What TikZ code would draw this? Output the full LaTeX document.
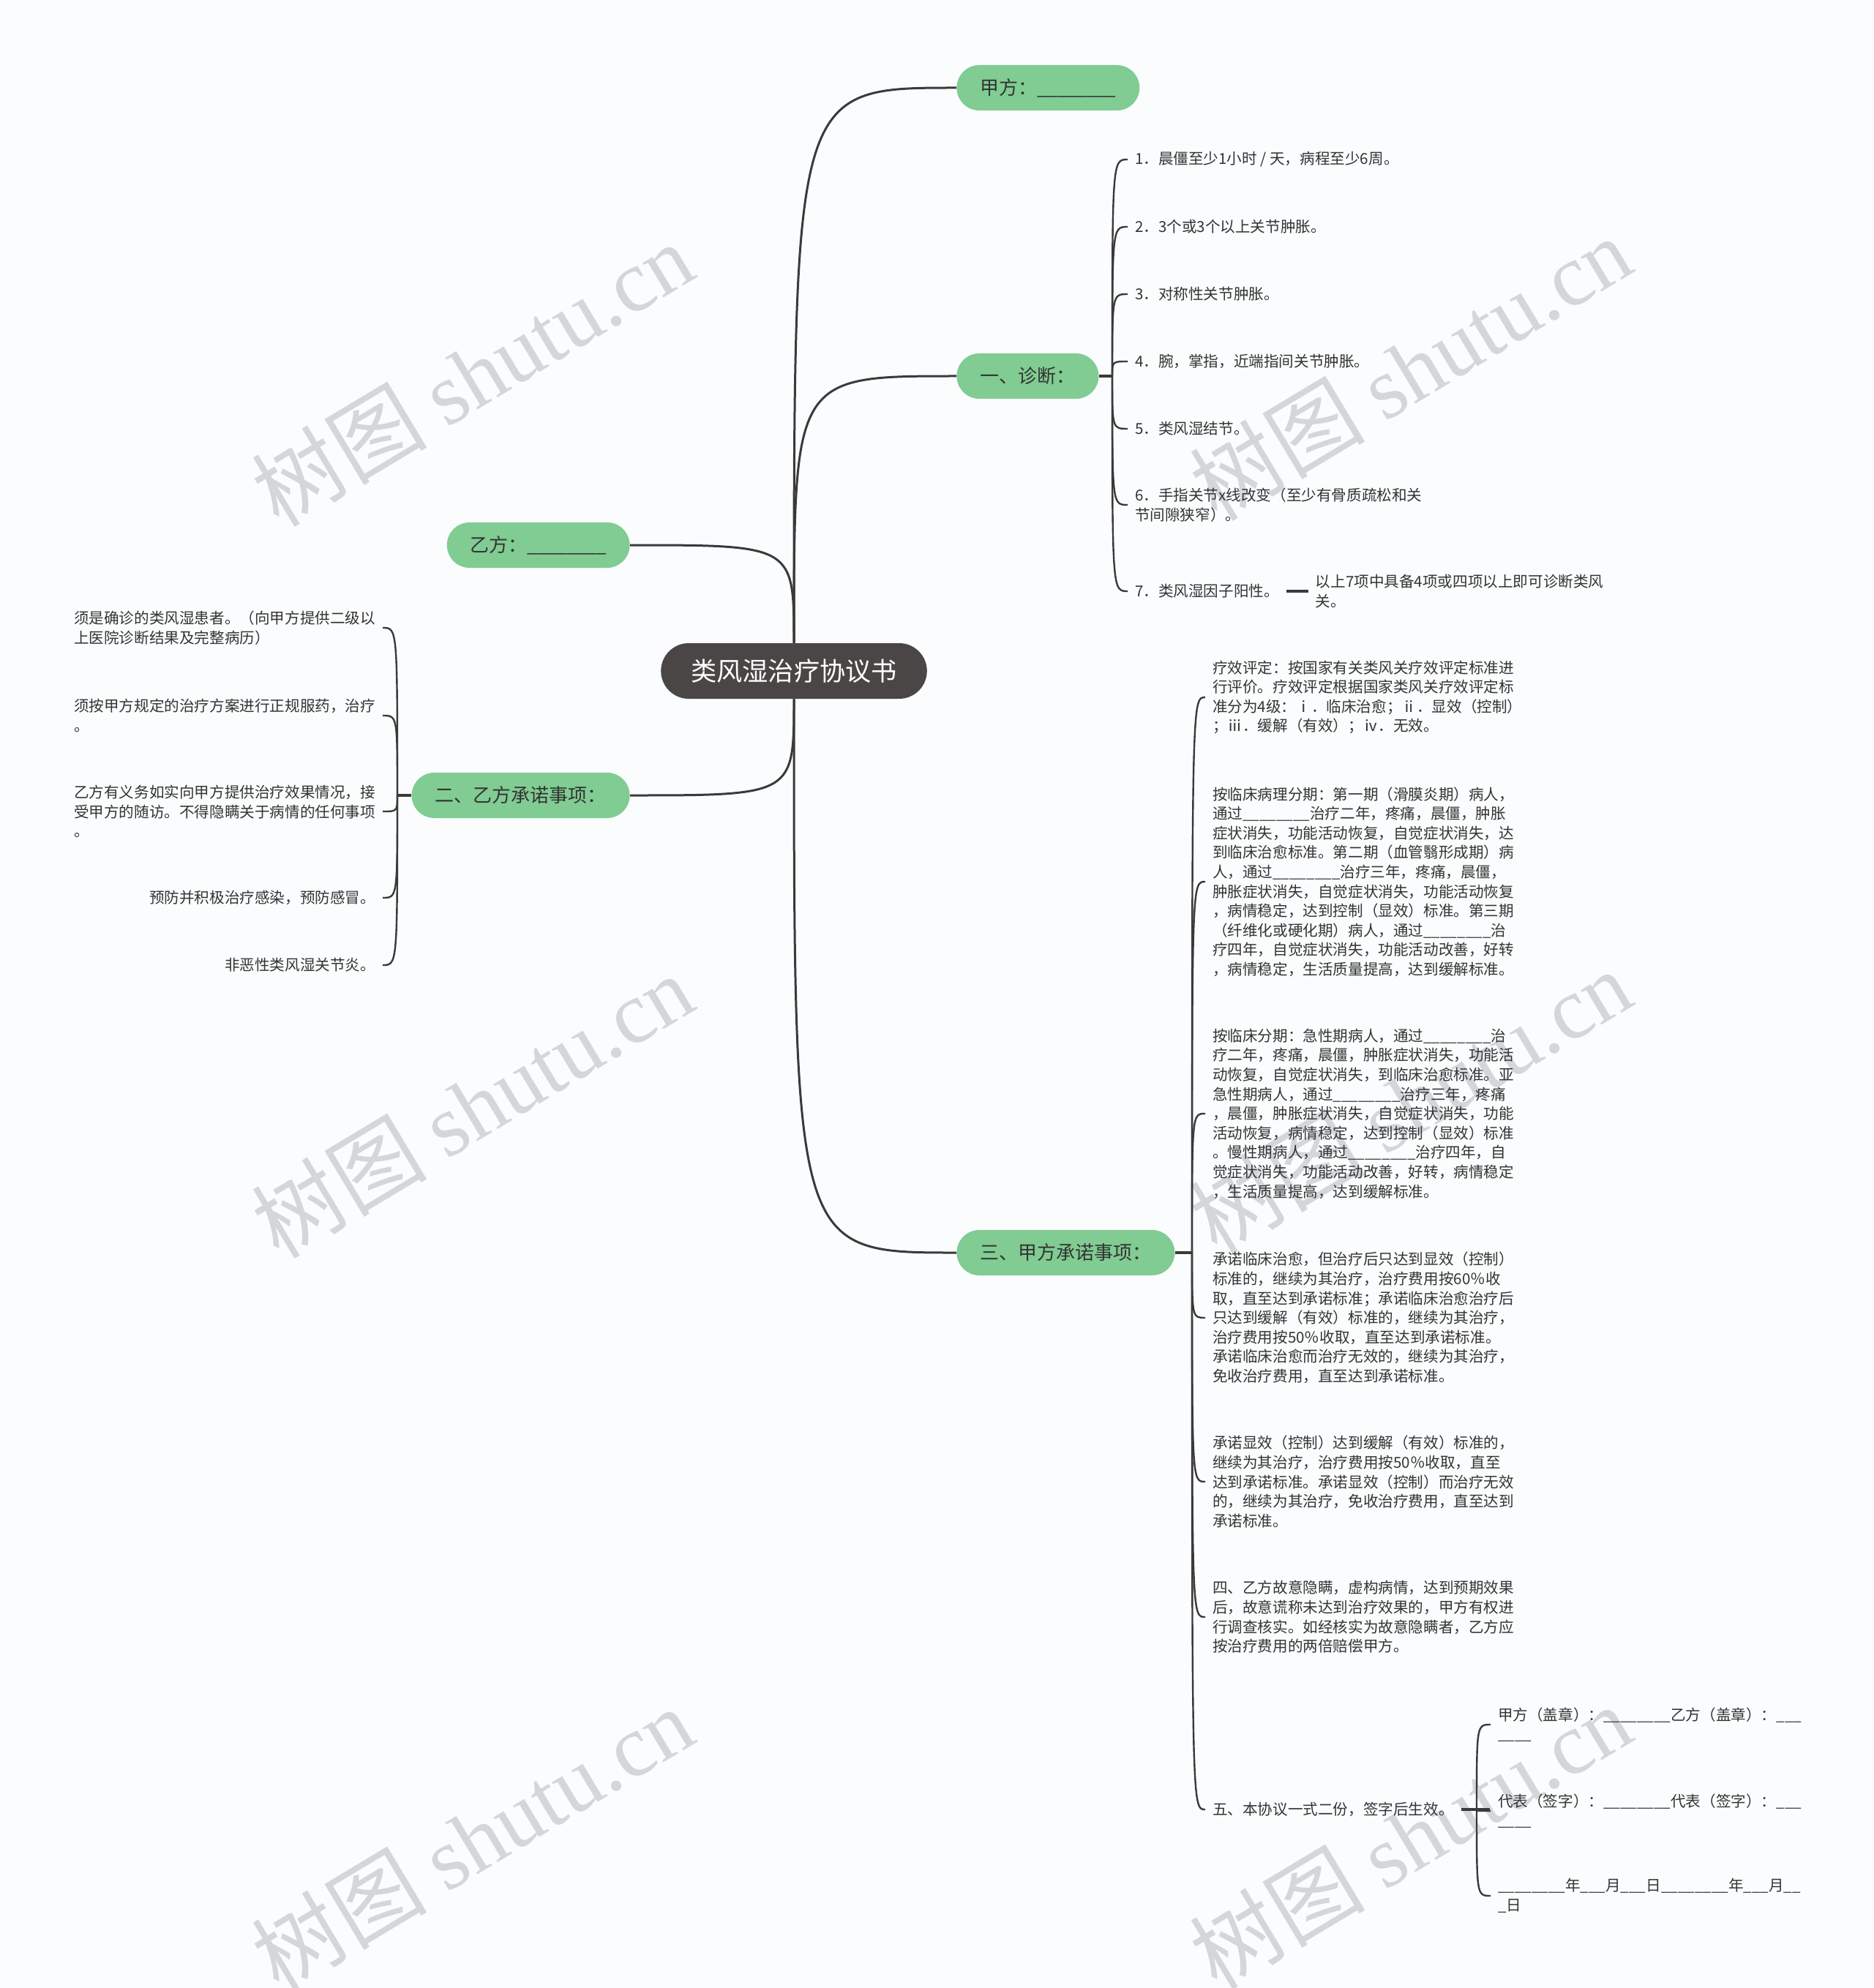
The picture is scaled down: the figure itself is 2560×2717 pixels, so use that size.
\documentclass[tikz,border=0pt]{standalone}
\usepackage{fontspec}
\setmainfont{Noto Sans CJK SC}
\newfontfamily\wmfont{Liberation Serif}
\usetikzlibrary{positioning, calc}
\definecolor{cRoot}{RGB}{75,70,70}
\definecolor{cBranch}{RGB}{128,204,146}
\definecolor{cLine}{RGB}{58,58,58}
\definecolor{cText}{RGB}{51,51,51}
\definecolor{cMark}{RGB}{212,215,217}
\definecolor{cPaper}{RGB}{250,252,253}
\newcommand{\blanks}{\_\_\_\_\_\_\_\_}
\newcommand{\nodeblanks}{\_\kern-0.6pt\_\kern-0.6pt\_\kern-0.6pt\_\kern-0.6pt\_\kern-0.6pt\_\kern-0.6pt\_\kern-0.6pt\_}
\tikzset{
    rootnode/.style={rectangle, rounded corners=19pt, minimum height=38pt, inner xsep=20.5pt, fill=cRoot, text=white, font=\fontsize{17.6}{20}\selectfont},
    branch/.style  ={rectangle, rounded corners=15.5pt, minimum height=31pt, inner xsep=16pt, fill=cBranch, text=cText, font=\fontsize{13}{15}\selectfont},
    leaf/.style    ={inner sep=0pt, outer xsep=5pt, align=left, text=cText, font=\fontsize{10.3}{13.3}\selectfont},
    limb/.style    ={draw=cLine, line width=1.5pt},
    twig/.style    ={draw=cLine, line width=1.2pt},
    stub/.style    ={draw=cLine, line width=2pt},
    wmark/.style   ={text=cMark, rotate=31, font=\fontsize{60}{60}\selectfont},
}

\begin{document}
\begin{tikzpicture}[x=0.5pt, y=-0.5pt]
                \useasboundingbox (0,0) rectangle (2560,2717);
                \fill[cPaper](0,0) rectangle (2560,2717);
                \node[wmark] (wmA) at (645,511){树图 {\wmfont shutu.cn}};
                \node[wmark] (wmB) at (1927,503){树图 {\wmfont shutu.cn}};
                \node[wmark] (wmC) at (645,1511){树图 {\wmfont shutu.cn}};
                \node[wmark] (wmD) at (1927,1505){树图 {\wmfont shutu.cn}};
                \node[wmark] (wmE) at (645,2513){树图 {\wmfont shutu.cn}};
                \node[wmark] (wmF) at (1927,2510){树图 {\wmfont shutu.cn}};
                \node[rootnode] (root) at (1085,917){类风湿治疗协议书};
                \node[branch, anchor=west] (jia) at (1307,120){甲方：\nodeblanks};
                \node[branch, anchor=west] (diag) at (1307,514){一、诊断：};
                \node[branch, anchor=east] (yi) at (861,745){乙方：\nodeblanks};
                \node[branch, anchor=east] (yiduty) at (861,1087){二、乙方承诺事项：};
                \node[branch, anchor=west] (jiaduty) at (1307,1712){三、甲方承诺事项：};
                \draw[limb](root.north) .. controls (root.north |- jia.west) .. (jia.west);
                \draw[limb](root.north) .. controls (root.north |- diag.west) .. (diag.west);
                \draw[limb](yi.east) .. controls (root.north |- yi.east) .. (root.north);
                \draw[limb](yiduty.east) .. controls (root.south |- yiduty.east) .. (root.south);
                \draw[limb](root.south) .. controls (root.south |- jiaduty.west) .. (jiaduty.west);
                % diagnosis
                \coordinate (diaghub) at (1520,514);
                \node[leaf, anchor=west] (d1) at (1541,218){1．晨僵至少1小时 / 天，病程至少6周。};
                \node[leaf, anchor=west] (d2) at (1541,310){2．3个或3个以上关节肿胀。};
                \node[leaf, anchor=west] (d3) at (1541,402){3．对称性关节肿胀。};
                \node[leaf, anchor=west] (d4) at (1541,494){4．腕，掌指，近端指间关节肿胀。};
                \node[leaf, anchor=west] (d5) at (1541,586){5．类风湿结节。};
                \node[leaf, anchor=west] (d6) at (1541,690){6．手指关节x线改变（至少有骨质疏松和关\\节间隙狭窄）。};
                \node[leaf, anchor=west] (d7) at (1541,808){7．类风湿因子阳性。};
                \node[leaf, right=15pt of d7] (note){以上7项中具备4项或四项以上即可诊断类风\\关。};
                \draw[stub](diag.east)--(diaghub);
                \draw[stub](d7.east)--(note.west);
                \draw[twig](diaghub) .. controls (diaghub |- d1.west) .. (d1.west);
                \draw[twig](diaghub) .. controls (diaghub |- d2.west) .. (d2.west);
                \draw[twig](diaghub) .. controls (diaghub |- d3.west) .. (d3.west);
                \draw[twig](diaghub) .. controls (diaghub |- d4.west) .. (d4.west);
                \draw[twig](diaghub) .. controls (diaghub |- d5.west) .. (d5.west);
                \draw[twig](diaghub) .. controls (diaghub |- d6.west) .. (d6.west);
                \draw[twig](diaghub) .. controls (diaghub |- d7.west) .. (d7.west);
                % duties of party B
                \coordinate (yihub) at (543,1087);
                \node[leaf, anchor=east] (y1) at (523,858){须是确诊的类风湿患者。（向甲方提供二级以\\上医院诊断结果及完整病历）};
                \node[leaf, anchor=east] (y2) at (523,978){须按甲方规定的治疗方案进行正规服药，治疗\\。};
                \node[leaf, anchor=east] (y3) at (523,1109){乙方有义务如实向甲方提供治疗效果情况，接\\受甲方的随访。不得隐瞒关于病情的任何事项\\。};
                \node[leaf, anchor=east] (y4) at (523,1227){预防并积极治疗感染，预防感冒。};
                \node[leaf, anchor=east] (y5) at (523,1319){非恶性类风湿关节炎。};
                \draw[stub](yiduty.west)--(yihub);
                \draw[twig](yihub) .. controls (yihub |- y1.east) .. (y1.east);
                \draw[twig](yihub) .. controls (yihub |- y2.east) .. (y2.east);
                \draw[twig](yihub) .. controls (yihub |- y3.east) .. (y3.east);
                \draw[twig](yihub) .. controls (yihub |- y4.east) .. (y4.east);
                \draw[twig](yihub) .. controls (yihub |- y5.east) .. (y5.east);
                % duties of party A
                \coordinate (jiahub) at (1629,1712);
                \node[leaf, anchor=west] (j1) at (1647,953){疗效评定：按国家有关类风关疗效评定标准进\\行评价。疗效评定根据国家类风关疗效评定标\\准分为4级：ⅰ．临床治愈；ⅱ．显效（控制）\\；ⅲ．缓解（有效）；ⅳ．无效。};
                \node[leaf, anchor=west] (j2) at (1647,1205){按临床病理分期：第一期（滑膜炎期）病人，\\通过\blanks 治疗二年，疼痛，晨僵，肿胀\\症状消失，功能活动恢复，自觉症状消失，达\\到临床治愈标准。第二期（血管翳形成期）病\\人，通过\blanks 治疗三年，疼痛，晨僵，\\肿胀症状消失，自觉症状消失，功能活动恢复\\，病情稳定，达到控制（显效）标准。第三期\\（纤维化或硬化期）病人，通过\blanks 治\\疗四年，自觉症状消失，功能活动改善，好转\\，病情稳定，生活质量提高，达到缓解标准。};
                \node[leaf, anchor=west] (j3) at (1647,1522){按临床分期：急性期病人，通过\blanks 治\\疗二年，疼痛，晨僵，肿胀症状消失，功能活\\动恢复，自觉症状消失，到临床治愈标准。亚\\急性期病人，通过\blanks 治疗三年，疼痛\\，晨僵，肿胀症状消失，自觉症状消失，功能\\活动恢复，病情稳定，达到控制（显效）标准\\。慢性期病人，通过\blanks 治疗四年，自\\觉症状消失，功能活动改善，好转，病情稳定\\，生活质量提高，达到缓解标准。};
                \node[leaf, anchor=west] (j4) at (1647,1801){承诺临床治愈，但治疗后只达到显效（控制）\\标准的，继续为其治疗，治疗费用按60％收\\取，直至达到承诺标准；承诺临床治愈治疗后\\只达到缓解（有效）标准的，继续为其治疗，\\治疗费用按50％收取，直至达到承诺标准。\\承诺临床治愈而治疗无效的，继续为其治疗，\\免收治疗费用，直至达到承诺标准。};
                \node[leaf, anchor=west] (j5) at (1647,2025){承诺显效（控制）达到缓解（有效）标准的，\\继续为其治疗，治疗费用按50％收取，直至\\达到承诺标准。承诺显效（控制）而治疗无效\\的，继续为其治疗，免收治疗费用，直至达到\\承诺标准。};
                \node[leaf, anchor=west] (j6) at (1647,2210){四、乙方故意隐瞒，虚构病情，达到预期效果\\后，故意谎称未达到治疗效果的，甲方有权进\\行调查核实。如经核实为故意隐瞒者，乙方应\\按治疗费用的两倍赔偿甲方。};
                \node[leaf, anchor=west] (j7) at (1647,2473){五、本协议一式二份，签字后生效。};
                \draw[stub](jiaduty.east)--(jiahub);
                \draw[twig](jiahub) .. controls (jiahub |- j1.west) .. (j1.west);
                \draw[twig](jiahub) .. controls (jiahub |- j2.west) .. (j2.west);
                \draw[twig](jiahub) .. controls (jiahub |- j3.west) .. (j3.west);
                \draw[twig](jiahub) .. controls (jiahub |- j4.west) .. (j4.west);
                \draw[twig](jiahub) .. controls (jiahub |- j5.west) .. (j5.west);
                \draw[twig](jiahub) .. controls (jiahub |- j6.west) .. (j6.west);
                \draw[twig](jiahub) .. controls (jiahub |- j7.west) .. (j7.west);
                % signatures
                \coordinate (signhub) at (2018,2473);
                \node[leaf, anchor=west] (s1) at (2037,2357){甲方（盖章）：\blanks 乙方（盖章）：\_\_\_\\\_\_\_\_};
                \node[leaf, anchor=west] (s2) at (2037,2475){代表（签字）：\blanks 代表（签字）：\_\_\_\\\_\_\_\_};
                \node[leaf, anchor=west] (s3) at (2037,2591){\blanks 年\_\_\_月\_\_\_日\blanks 年\_\_\_月\_\_\\\_日};
                \draw[stub](j7.east)--(signhub)--++(18,0);
                \draw[twig](signhub) .. controls (signhub |- s1.west) .. (s1.west);
                \draw[twig](signhub) .. controls (signhub |- s2.west) .. (s2.west);
                \draw[twig](signhub) .. controls (signhub |- s3.west) .. (s3.west);
            \end{tikzpicture}
\end{document}
